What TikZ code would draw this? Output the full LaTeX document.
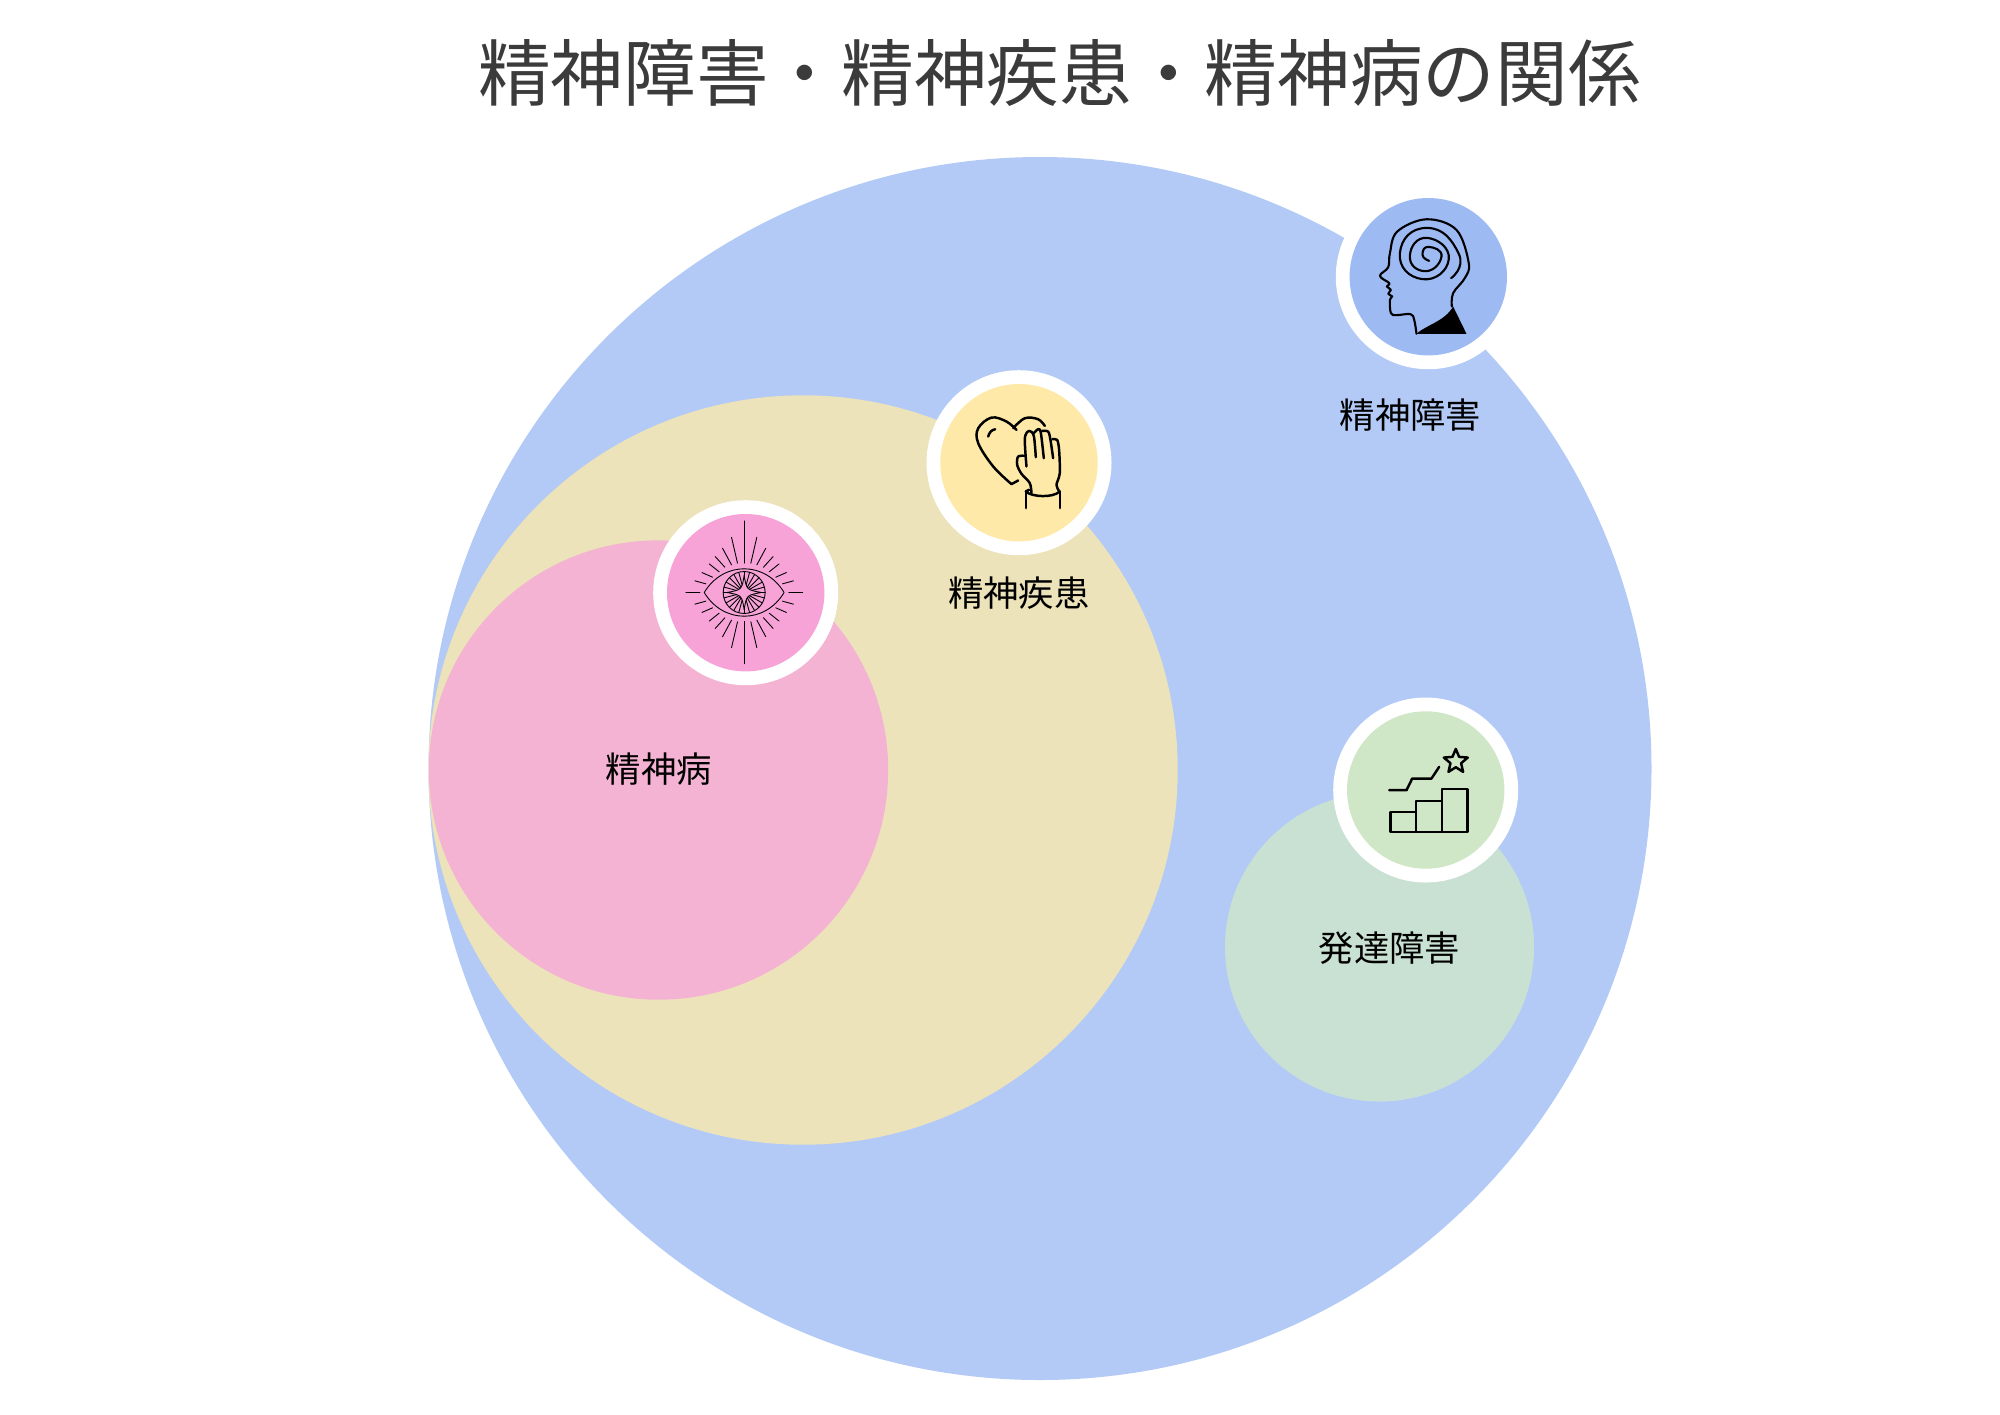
\documentclass[tikz,border=0pt]{standalone}
\usepackage{fontspec}
\newfontfamily\cjk{Noto Sans CJK JP}
\definecolor{outerblue}{HTML}{B3CAF7}
\definecolor{sandarea}{HTML}{ECE3BA}
\definecolor{pinkarea}{HTML}{F4B3D3}
\definecolor{greenarea}{HTML}{C9E1D3}
\definecolor{bluedisc}{HTML}{9DBAF3}
\definecolor{sanddisc}{HTML}{FEE9A8}
\definecolor{pinkdisc}{HTML}{F7A3D8}
\definecolor{greendisc}{HTML}{CFE7C6}
\definecolor{titlegray}{HTML}{3B3B3B}
\tikzset{
  arealabel/.style={inner sep=0pt,font=\cjk\fontsize{10.05}{12}\selectfont},
  titlelabel/.style={inner sep=0pt,text=titlegray,font=\cjk\fontsize{20.66}{25}\selectfont},
  iconline/.style={line width=0.7pt,line cap=round,line join=round},
  headline/.style={line width=0.6pt,line cap=round,line join=round},
  thinline/.style={line width=0.25pt,line cap=round,line join=round},
  iconcrop/.style={x=0.003333cm,y=-0.003333cm}
}
\begin{document}
\begin{tikzpicture}[x=0.01cm,y=-0.01cm]
  \useasboundingbox (0,0) rectangle (2000,1414);
  \node[titlelabel] (title) at (1059.5,73) {精神障害・精神疾患・精神病の関係};
  \fill[outerblue] (1040,768.5) circle (611.5);
  \fill[sandarea] (803,770) circle (374.7);
  \fill[pinkarea] (658.5,770) circle (229.7);
  \fill[greenarea] (1379.5,947) circle (154.5);
  \fill[white] (1428.3,276.7) circle (92.5);
  \fill[white] (1019,462.7) circle (92.5);
  \fill[white] (745.7,592.7) circle (92.5);
  \fill[white] (1425.7,790) circle (92.5);
  \fill[bluedisc] (1428.3,276.7) circle (78.7);
  \fill[sanddisc] (1019,462.7) circle (78.7);
  \fill[pinkdisc] (745.7,592.7) circle (78.7);
  \fill[greendisc] (1425.7,790) circle (78.7);
  \node[arealabel] (outerlabel) at (1410.5,415) {精神障害};
  \node[arealabel] (sandlabel) at (1018.7,593.6) {精神疾患};
  \node[arealabel] (pinklabel) at (658.7,769) {精神病};
  \node[arealabel] (greenlabel) at (1389.5,948.5) {発達障害};
  % head
  \begin{scope}[shift={(1320,170)},iconcrop]
    \fill (290,492) .. controls (320,465) and (375,455) .. (400,410) -- (440,492) -- cycle;
    \draw[headline] plot[smooth,tension=0.6] coordinates {(290,492) (283,450) (272,433) (230,436) (213,430) (210,390) (217,380) (205,372) (213,360) (201,350) (208,340) (180,318) (205,292) (210,250) (232,185) (320,148) (410,180) (447,280) (435,325) (400,370) (396,410)};
    \draw[headline] plot[smooth,tension=1] coordinates {(328,273) (308,255) (327,231) (365,260) (316,304) (270,258) (322,204) (387,268) (308,328) (240,250) (322,174) (417,252) (394,325)};
  \end{scope}
  % heart and hand
  \begin{scope}[shift={(910,350)},iconcrop]
    \draw[iconline] plot[smooth,tension=0.6] coordinates {(320,240) (290,215) (245,203) (205,235) (205,280) (250,350) (305,403)};
    \draw[iconline] (305,403) -- (325,392);
    \draw[iconline] plot[smooth,tension=0.6] coordinates {(310,235) (345,205) (385,208) (405,228)};
    \draw[iconline] (235,260) .. controls (238,248) and (245,240) .. (256,238);
    \draw[iconline] plot[smooth,tension=0.5] coordinates {(350,350) (345,265) (358,243) (372,258) (378,322)};
    \draw[iconline] plot[smooth,tension=0.5] coordinates {(372,250) (385,238) (393,248) (402,325)};
    \draw[iconline] plot[smooth,tension=0.5] coordinates {(397,243) (415,245) (422,270) (430,325)};
    \draw[iconline] plot[smooth,tension=0.5] coordinates {(428,268) (442,270) (448,300) (450,370) (440,405) (447,422)};
    \draw[iconline] plot[smooth,tension=0.5] coordinates {(347,318) (325,320) (322,345) (335,372) (360,400) (365,430)};
    \draw[iconline] (358,420) -- (348,425) .. controls (365,442) and (430,445) .. (450,425);
    \draw[iconline] (348,425) -- (348,475);
    \draw[iconline] (450,425) -- (450,475);
  \end{scope}
  % eye
  \begin{scope}[shift={(640,480)},iconcrop]
    \draw[thinline] (313,123) -- (313,250);
    \draw[thinline] (313,425) -- (313,552);
    \draw[thinline] (138,338) -- (180,338);
    \draw[thinline] (447,338) -- (489,338);
    \foreach \xa/\ya/\xb/\yb in {38/166/20/88,65/133/38/83,87/108/58/76,105/86/75/62,127/60/95/46,148/35/115/26}{
      \foreach \sx in {-1,1}{
        \foreach \sy in {-1,1}{
          \draw[thinline] ({313+\sx*\xa},{338+\sy*\ya}) -- ({313+\sx*\xb},{338+\sy*\yb});
        }
      }
    }
    \draw[thinline] (193,338) .. controls (250,243) and (376,243) .. (433,338) .. controls (376,433) and (250,433) .. cycle;
    \foreach \a in {0,15,...,345}{
      \draw[thinline] (313,338) -- ++(\a:63);
    }
    \draw[thinline] (313,338) circle (63);
    \draw[thinline,fill=pinkdisc] (313,286) .. controls (320,330) .. (365,338) .. controls (320,346) .. (313,390) .. controls (306,346) .. (261,338) .. controls (306,330) .. cycle;
  \end{scope}
  % stairs and star
  \begin{scope}[shift={(1320,680)},iconcrop]
    \draw[iconline] (212,397) rectangle (288,457);
    \draw[iconline] (288,363) rectangle (366,457);
    \draw[iconline] (366,327) rectangle (443,457);
    \draw[iconline] (208,331) -- (260,331) -- (277,296) -- (335,296) -- (358,261);
    \draw[iconline] (408,207) -- (418,231) -- (444,233) -- (424,250) -- (430,276) -- (408,262) -- (386,276) -- (392,250) -- (372,233) -- (398,231) -- cycle;
  \end{scope}
\end{tikzpicture}
\end{document}
